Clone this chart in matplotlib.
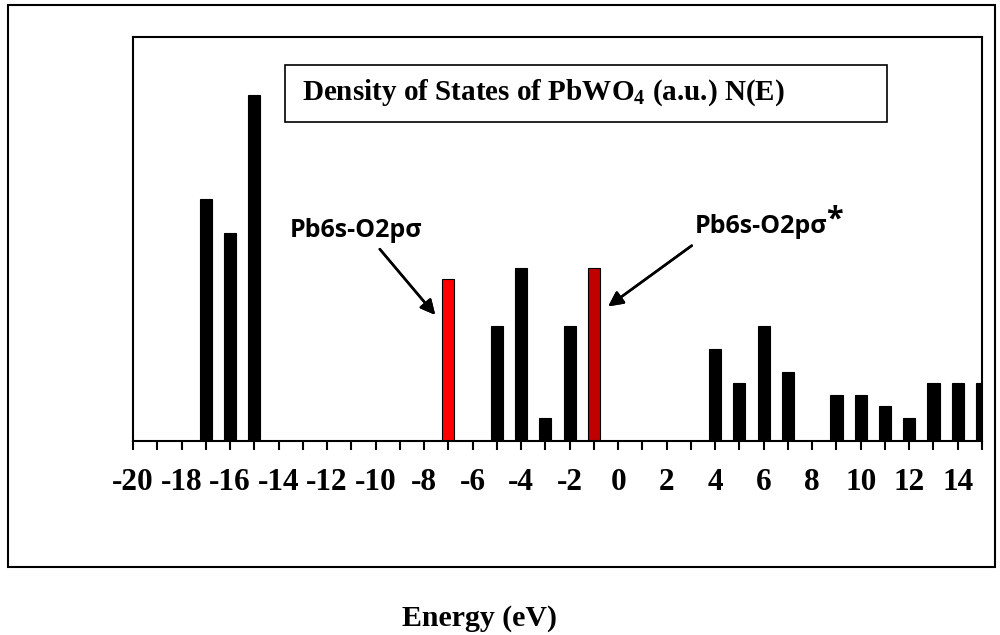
import numpy as np
import matplotlib.pyplot as plt
from matplotlib.patches import Rectangle

plt.rcParams['mathtext.fontset'] = 'custom'
plt.rcParams['mathtext.bf'] = 'Liberation Serif:bold'
plt.rcParams['mathtext.rm'] = 'Liberation Serif:bold'

# energias (eV) y densidad de estados (u.a.)
energia = [-17, -16, -15, -7, -5, -4, -3, -2, -1, 4, 5, 6, 7, 9, 10, 11, 12, 13, 14, 15]
dos = [21, 18, 30, 14, 10, 15, 2, 10, 15, 8, 5, 10, 6, 4, 4, 3, 2, 5, 5, 5]
colores = ['black'] * 3 + ['#FF0000'] + ['black'] * 4 + ['#C00000'] + ['black'] * 11
ticks = list(range(-20, 16))
tick_labels = [str(v) if (v % 2 == 0 and v < 15) else '' for v in ticks]

W, H = 1000, 635
fig = plt.figure(figsize=(10, 6.35), dpi=100)

def fx(px):
    return px / W

def fy(py):
    return 1 - py / H

# marco exterior
fig.patches.append(Rectangle((fx(8), fy(567)), fx(995) - fx(8), fy(5) - fy(567),
                             transform=fig.transFigure, fill=False, lw=1.5, ec='black'))

ax = fig.add_axes([fx(133), fy(441), fx(982) - fx(133), fy(37) - fy(441)])
ax.bar(energia, dos, width=0.5, color=colores, edgecolor='black', linewidth=0.8)
ax.set_xlim(-20, 15)
ax.set_ylim(0, 35)
ax.set_yticks([])
ax.set_xticks(ticks)
ax.set_xticklabels(tick_labels, fontfamily='Liberation Serif', fontweight='bold', fontsize=22.5)
ax.tick_params(axis='x', direction='out', length=6.5, width=1.5, pad=13)
for s in ax.spines.values():
    s.set_linewidth(1.5)

# caja del titulo
fig.patches.append(Rectangle((fx(285), fy(122)), fx(887) - fx(285), fy(65) - fy(122),
                             transform=fig.transFigure, fill=False, lw=1.2, ec='black'))
fig.text(fx(302), fy(93), r'Density of States of PbWO$_\mathbf{4}$ (a.u.) N(E)',
         fontfamily='Liberation Serif', fontweight='bold', fontsize=21, va='center', ha='left')

# anotaciones
fig.text(fx(290), fy(237), 'Pb6s-O2p\u03c3', fontfamily='Open Sans', fontweight='bold',
         fontsize=18, va='baseline', ha='left')
fig.text(fx(695), fy(233), 'Pb6s-O2p\u03c3', fontfamily='Open Sans', fontweight='bold',
         fontsize=18, va='baseline', ha='left')
fig.text(fx(826), fy(220), '*', fontfamily='Open Sans', fontweight='bold',
         fontsize=22, va='center', ha='left')
fig.add_artist(plt.annotate('', xy=(fx(437), fy(317)), xytext=(fx(378), fy(247)),
                            xycoords='figure fraction',
                            arrowprops=dict(arrowstyle='-|>', color='black', lw=1.8,
                                            mutation_scale=22)))
fig.add_artist(plt.annotate('', xy=(fx(606), fy(308)), xytext=(fx(694), fy(244)),
                            xycoords='figure fraction',
                            arrowprops=dict(arrowstyle='-|>', color='black', lw=1.8,
                                            mutation_scale=22)))

fig.text(fx(480), fy(626), 'Energy (eV)', fontfamily='Liberation Serif', fontweight='bold',
         fontsize=21.5, ha='center', va='baseline')

fig.savefig('out.png', dpi=100)
